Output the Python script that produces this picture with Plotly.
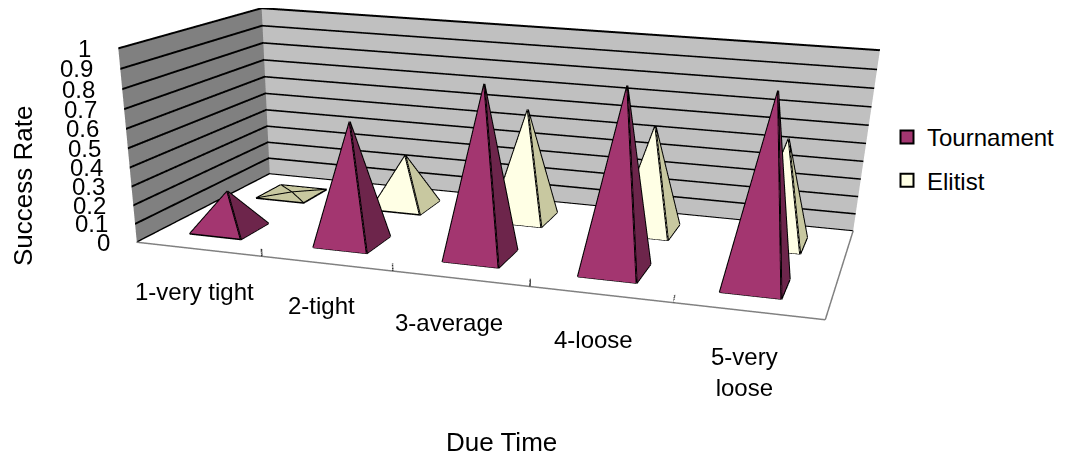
import plotly.graph_objects as go

categories = ["1-very tight", "2-tight", "3-average", "4-loose", "5-very<br>loose"]
tournament = [0.21, 0.645, 0.89, 0.935, 0.965]
elitist = [0.01, 0.295, 0.615, 0.585, 0.575]
z_ticks = [0, 0.1, 0.2, 0.3, 0.4, 0.5, 0.6, 0.7, 0.8, 0.9, 1]
x_boundaries = [1.5, 2.5, 3.5, 4.5]

# Layout and style
W, FH = 1058, 1200          # tall canvas: gives the long focal length of the original's 3D view
DOMAIN_X = [0, 960 / W]
EYE = dict(x=0.593, y=-2.122, z=0.456)
CENTER = dict(x=0.278, y=-1.022, z=-0.189)
UP = dict(x=-0.259, y=0.776, z=1)
ASPECT = dict(x=1, y=0.472, z=0.269)
FRONT, SIDE, EF, ES = "#A33670", "#6D254B", "#FFFFE5", "#C8C8A0"
HALF = 0.21
XOFF = -0.035
LABEL_XSHIFT = [-4, -5, -12, -8, -4]
LABEL_YSHIFT = [-42, -42, -44, -45, -61]

fig = go.Figure()

def pyramid(cx_, cy_, val, cf, cs):
    xs = [cx_ - HALF, cx_ + HALF, cx_ + HALF, cx_ - HALF, cx_]
    ys = [cy_ - HALF, cy_ - HALF, cy_ + HALF, cy_ + HALF, cy_]
    zs = [0, 0, 0, 0, val]
    fc = [cf, cs, cs, cs] if val > 0.05 else [cs] * 4
    fig.add_trace(go.Mesh3d(x=xs, y=ys, z=zs, i=[0, 1, 2, 3], j=[1, 2, 3, 0], k=[4, 4, 4, 4], facecolor=fc,
                            flatshading=True, showscale=False, hoverinfo="skip",
                            lighting=dict(ambient=1, diffuse=0, specular=0, roughness=1, fresnel=0)))
    ex, ey, ez = [], [], []
    for a, b in [(0, 1), (1, 2), (2, 3), (3, 0), (0, 4), (1, 4), (2, 4), (3, 4)]:
        ex += [xs[a], xs[b], None]
        ey += [ys[a], ys[b], None]
        ez += [zs[a], zs[b], None]
    fig.add_trace(go.Scatter3d(x=ex, y=ey, z=ez, mode="lines", line=dict(color="black", width=4),
                               showlegend=False, hoverinfo="skip"))

for i in range(len(categories)):
    pyramid(i + 1 + XOFF, 2, elitist[i], EF, ES)
    pyramid(i + 1 + XOFF, 1, tournament[i], FRONT, SIDE)

tx, ty, tz = [], [], []
for b in x_boundaries:
    tx += [b, b, None]
    ty += [0.5, 0.5, None]
    tz += [0, 0.04, None]
fig.add_trace(go.Scatter3d(x=tx, y=ty, z=tz, mode="lines", line=dict(color="#333333", width=3),
                           showlegend=False, hoverinfo="skip"))

for name, col in (("Tournament", FRONT), ("Elitist", EF)):
    fig.add_trace(go.Scatter3d(x=[None], y=[None], z=[None], mode="markers", name=name, legendgroup=name,
                               marker=dict(symbol="square", size=13, color=col, line=dict(color="black", width=2))))

fnt = dict(family="Liberation Sans", size=24, color="black")
title_fnt = dict(family="Liberation Sans", size=26, color="black")

def px(x):
    return (x - 8) / W

def py(y):
    return 1 - (y - 8) / FH

paper = [
    dict(text="Due Time", x=px(501), y=py(442), xref="paper", yref="paper", xanchor="center", yanchor="middle",
         showarrow=False, font=title_fnt),
    dict(text="Success Rate", x=px(23), y=py(186), xref="paper", yref="paper", xanchor="center", yanchor="middle",
         showarrow=False, font=title_fnt, textangle=-90),
]
scene_ann = [dict(x=0.5, y=0.5, z=t, text=str(t), showarrow=False, xanchor="right", xshift=-25, font=fnt)
             for t in z_ticks]
scene_ann += [dict(x=i + 1, y=0.5, z=0, text=c, showarrow=False, xshift=LABEL_XSHIFT[i], yshift=LABEL_YSHIFT[i], font=fnt)
              for i, c in enumerate(categories)]

fig.update_layout(
    width=W, height=FH, margin=dict(l=0, r=0, t=0, b=0), paper_bgcolor="white", font=fnt,
    legend=dict(x=px(887), y=py(115), xanchor="left", yanchor="top", font=dict(size=24), tracegroupgap=9),
    annotations=paper,
    scene=dict(
        domain=dict(x=DOMAIN_X, y=[0, 1]), aspectmode="manual", aspectratio=ASPECT,
        camera=dict(eye=EYE, center=CENTER, up=UP, projection=dict(type="perspective")),
        annotations=scene_ann,
        xaxis=dict(range=[0.5, 5.5], showgrid=False, tickvals=[], showbackground=True, backgroundcolor="#808080",
                   title="", showline=True, linecolor="#808080", linewidth=3, zeroline=False, showspikes=False),
        yaxis=dict(range=[0.5, 2.5], showgrid=False, tickvals=[], showbackground=True, backgroundcolor="#C0C0C0",
                   title="", showline=True, linecolor="#808080", linewidth=3, zeroline=False, showspikes=False),
        zaxis=dict(range=[0, 1], tickvals=z_ticks, ticktext=[""] * len(z_ticks), showgrid=True, gridcolor="black",
                   gridwidth=4, showbackground=True, backgroundcolor="white", title="", zeroline=False, showspikes=False),
    ),
)
fig.write_html("out.html")
